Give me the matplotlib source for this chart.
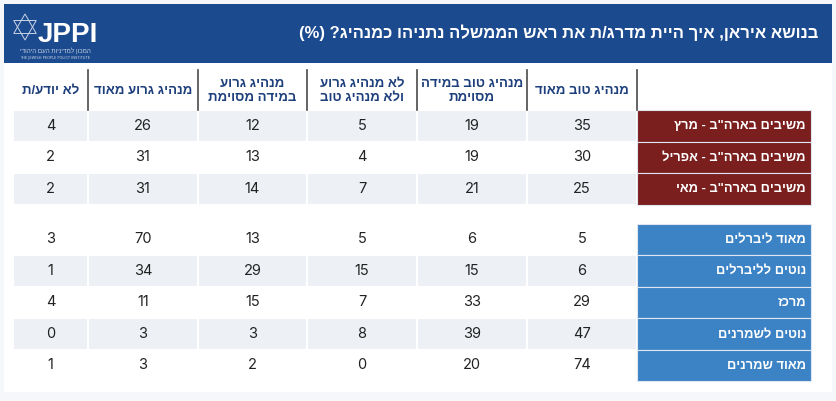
import matplotlib
matplotlib.use('Agg')
import matplotlib.pyplot as plt
from matplotlib.patches import Rectangle, Polygon
import numpy as np

# Hebrew has to be flipped by hand, matplotlib has no bidi support
def rtl(s):
    swap = {'(': ')', ')': '('}
    return '\n'.join(''.join(swap.get(c, c) for c in reversed(line)) for line in s.split('\n'))

# Data
title = 'בנושא איראן, איך היית מדרג/ת את ראש הממשלה נתניהו כמנהיג? (%)'

# column headers, left -> right as they appear
headers = ['לא יודע/ת', 'מנהיג גרוע מאוד', 'מנהיג גרוע\nבמידה מסוימת',
           'לא מנהיג גרוע\nולא מנהיג טוב', 'מנהיג טוב במידה\nמסוימת', 'מנהיג טוב מאוד']

rows_us = ['משיבים בארה"ב - מרץ', 'משיבים בארה"ב - אפריל', 'משיבים בארה"ב - מאי']
rows_ideology = ['מאוד ליברלים', 'נוטים לליברלים', 'מרכז', 'נוטים לשמרנים', 'מאוד שמרנים']

good_very = [35, 30, 25, 5, 6, 29, 47, 74]
good_some = [19, 19, 21, 6, 15, 33, 39, 20]
neither = [5, 4, 7, 5, 15, 7, 8, 0]
bad_some = [12, 13, 14, 13, 29, 15, 3, 2]
bad_very = [26, 31, 31, 70, 34, 11, 3, 3]
dont_know = [4, 2, 2, 3, 1, 4, 0, 1]

columns = [dont_know, bad_very, bad_some, neither, good_some, good_very]

# Layout (pixels)
W, H = 836, 401
col_edges = [13, 88, 198, 307, 417, 527, 637]
label_right = 811
row_h = 31.5
top_us = 110
top_ideo = 223.5

heb = ['Liberation Sans', 'DejaVu Sans']
navy = '#1c4a8e'
head_col = '#1d3f7c'
gray = '#edf1f6'
red = '#7a1e1e'
blue = '#3b83c5'

fig = plt.figure(figsize=(W / 100, H / 100), dpi=100, facecolor='#f6f7fb')
ax = fig.add_axes([0, 0, 1, 1])
ax.set_xlim(0, W)
ax.set_ylim(H, 0)
ax.axis('off')

# card + header bar
ax.add_patch(Rectangle((4, 4), 828, 388, color='white', lw=0))
ax.add_patch(Rectangle((4, 4), 828, 59, color=navy, lw=0))

ax.text(818, 33, rtl(title), color='white', fontsize=12, fontweight='bold',
        family=heb, ha='right', va='center')

# logo
cx, cy, r = 25, 27, 13
for ang in (90, 270):
    t = np.deg2rad(np.array([ang, ang + 120, ang + 240]))
    pts = np.column_stack([cx + r * np.cos(t), cy - r * np.sin(t)])
    ax.add_patch(Polygon(pts, closed=True, fill=False, ec='#c9d3e6', lw=0.7))
ax.text(38, 42, 'JPPI', color='white', fontsize=20, fontweight='bold',
        family='Liberation Sans', ha='left', va='baseline')
ax.text(55, 51, rtl('המכון למדיניות העם היהודי'), color='#c9d3e6', fontsize=4.5,
        family=heb, ha='center', va='center')
ax.text(55, 57.5, 'THE JEWISH PEOPLE POLICY INSTITUTE', color='#c9d3e6', fontsize=2.6,
        family='DejaVu Sans', ha='center', va='center')

# column headers
for i, h in enumerate(headers):
    x0, x1 = col_edges[i], col_edges[i + 1]
    ax.text((x0 + x1) / 2, 91, rtl(h), color=head_col, fontsize=9.5, fontweight='bold',
            family=heb, ha='center', va='center', linespacing=1.25)
for x in col_edges[1:]:
    ax.plot([x, x], [70, 110], color='#4a4a4a', lw=1.2)

# body rows
row_tops = [top_us + i * row_h for i in range(len(rows_us))] + \
           [top_ideo + i * row_h for i in range(len(rows_ideology))]
row_labels = rows_us + rows_ideology
row_colors = [red] * len(rows_us) + [blue] * len(rows_ideology)
striped = [i % 2 == 0 for i in range(len(rows_us))] + \
          [i % 2 == 1 for i in range(len(rows_ideology))]

for r_i, top in enumerate(row_tops):
    if striped[r_i]:
        for c in range(len(columns)):
            x0, x1 = col_edges[c], col_edges[c + 1]
            ax.add_patch(Rectangle((x0 + 1, top + 0.5), x1 - x0 - 2, row_h - 1,
                                   color=gray, lw=0))
    for c, col in enumerate(columns):
        x0, x1 = col_edges[c], col_edges[c + 1]
        ax.text((x0 + x1) / 2, top + row_h / 2, str(col[r_i]), color='#222222',
                fontsize=10.5, family='Inter', ha='center', va='center')
    ax.add_patch(Rectangle((col_edges[-1], top), label_right - col_edges[-1], row_h,
                           fc=row_colors[r_i], ec='#dfe6f0', lw=0.8))
    ax.text(label_right - 5, top + row_h / 2 + 0.5, rtl(row_labels[r_i]), color='white',
            fontsize=9.3, fontweight='bold', family=heb, ha='right', va='center')

fig.savefig('out.png', dpi=100, facecolor=fig.get_facecolor())
